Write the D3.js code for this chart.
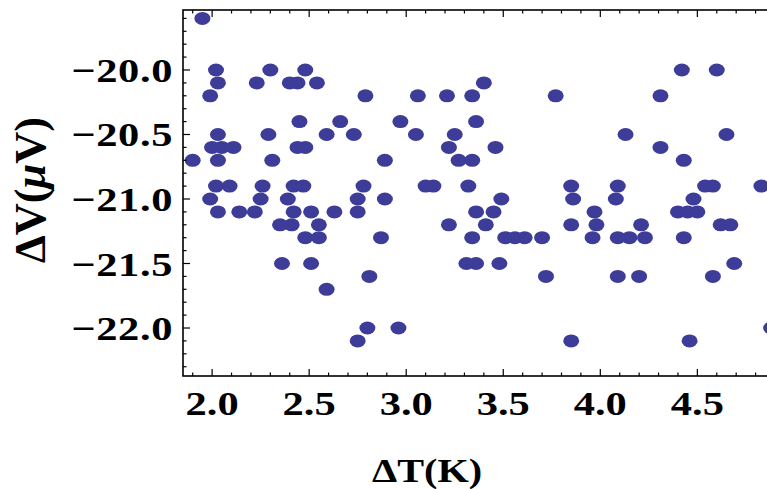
<!DOCTYPE html>
<html>
<head>
<meta charset="utf-8">
<script src="https://cdn.jsdelivr.net/npm/d3@7/dist/d3.min.js"></script>
<style>
  html, body { margin: 0; padding: 0; background: #fff; overflow: hidden; }
  svg { display: block; }
  text { font-family: "Liberation Serif", "Times New Roman", serif; font-weight: bold; fill: #000; }
</style>
</head>
<body>
<svg id="chart" width="767" height="489"></svg>
<script>
// Measured voltage step ΔV (µV) against temperature difference ΔT (K), grouped by ΔV level
const dvLevels = [-19.6, -20.0, -20.1, -20.2, -20.4, -20.5, -20.6, -20.7, -20.9, -21.0,
                  -21.1, -21.2, -21.3, -21.5, -21.6, -21.7, -22.0, -22.1];
const dtAtLevel = [
  [1.95],
  [2.02, 2.30, 2.48, 4.42, 4.60],
  [2.03, 2.23, 2.40, 2.44, 2.54, 3.40],
  [1.99, 2.79, 3.06, 3.21, 3.34, 3.77, 4.31],
  [2.45, 2.66, 2.97, 3.36],
  [2.03, 2.29, 2.59, 2.73, 3.05, 3.25, 4.13, 4.65],
  [2.00, 2.05, 2.11, 2.44, 2.48, 3.22, 3.46, 4.31],
  [1.90, 2.03, 2.31, 2.89, 3.27, 3.34, 4.43],
  [2.02, 2.09, 2.26, 2.42, 2.47, 2.78, 3.10, 3.14, 3.32, 3.85, 4.09, 4.54, 4.58, 4.83],
  [1.99, 2.25, 2.39, 2.75, 2.89, 3.49, 3.86, 4.08, 4.48],
  [2.03, 2.14, 2.22, 2.42, 2.51, 2.63, 2.75, 3.36, 3.45, 3.97, 4.40, 4.45, 4.50],
  [2.35, 2.41, 2.55, 3.22, 3.41, 3.85, 3.98, 4.21, 4.62, 4.67],
  [2.48, 2.55, 2.87, 3.34, 3.51, 3.56, 3.61, 3.70, 3.96, 4.09, 4.15, 4.23, 4.43],
  [2.36, 2.51, 3.31, 3.36, 3.48, 4.69],
  [2.81, 3.72, 4.09, 4.20, 4.58],
  [2.59],
  [2.80, 2.96, 4.88],
  [2.75, 3.85, 4.46]
];
const xTickValues = [2.0, 2.5, 3.0, 3.5, 4.0, 4.5, 5.0];
const yTickValues = [-20.0, -20.5, -21.0, -21.5, -22.0];
const xTitle = "ΔT(K)";
const yTitleParts = [["ΔV(", false], ["μ", true], ["V)", false]];

const points = [];
dvLevels.forEach((v, i) => dtAtLevel[i].forEach(t => points.push({ t, v })));

const svg = d3.select("#chart");
const plotL = 183, plotT = 10, plotB = 376, plotR = 775;
const SX = 1.25; // horizontal stretch of glyphs

const x = d3.scaleLinear().domain([1.85, 4.9]).range([plotL, plotR]);
const y = d3.scaleLinear().domain([-22.372, -19.535]).range([plotB, plotT]);

// clip for markers
svg.append("defs").append("clipPath").attr("id", "plotclip")
  .append("rect").attr("x", plotL).attr("y", plotT).attr("width", plotR - plotL).attr("height", plotB - plotT);

svg.append("g").attr("clip-path", "url(#plotclip)")
  .selectAll("ellipse").data(points).join("ellipse")
  .attr("cx", d => x(d.t))
  .attr("cy", d => y(d.v))
  .attr("rx", 8)
  .attr("ry", 6.5)
  .attr("fill", "#3d3d99");

// tick marks (all pointing into the frame)
const fmt = d3.format(".1f");
const tenths = (lo, hi) => d3.range(Math.round(lo * 10), Math.round(hi * 10) + 1).map(k => k / 10);
const isMajor = v => Math.abs(v * 2 - Math.round(v * 2)) < 1e-6;

const xAll = tenths(1.9, 4.9);
const yAll = tenths(-22.3, -19.6);

const tickG = svg.append("g").attr("stroke", "#000").attr("stroke-width", 1.2);
xAll.forEach(v => {
  const L = isMajor(v) ? 7 : 3.5;
  tickG.append("line").attr("x1", x(v)).attr("x2", x(v)).attr("y1", plotB).attr("y2", plotB - L);
  tickG.append("line").attr("x1", x(v)).attr("x2", x(v)).attr("y1", plotT).attr("y2", plotT + L);
});
yAll.forEach(v => {
  const L = isMajor(v) ? 7 : 3.5;
  tickG.append("line").attr("x1", plotL).attr("x2", plotL + L).attr("y1", y(v)).attr("y2", y(v));
});

// frame
svg.append("rect")
  .attr("x", plotL).attr("y", plotT).attr("width", plotR - plotL).attr("height", plotB - plotT)
  .attr("fill", "none").attr("stroke", "#000").attr("stroke-width", 1.6);

// tick labels
svg.append("g").selectAll("text").data(xTickValues.filter(v => x(v) < 767)).join("text")
  .attr("transform", d => `translate(${x(d)},415) scale(${SX},1)`)
  .attr("text-anchor", "middle")
  .attr("font-size", 34)
  .text(d => fmt(d));

svg.append("g").selectAll("text").data(yTickValues).join("text")
  .attr("transform", d => `translate(173,${y(d) + 12}) scale(${SX},1)`)
  .attr("text-anchor", "end")
  .attr("font-size", 34)
  .attr("letter-spacing", 0.5)
  .text(d => fmt(d).replace("-", "\u2212"));

// axis titles
svg.append("text")
  .attr("transform", `translate(427,482) scale(1.22,1)`)
  .attr("text-anchor", "middle")
  .attr("font-size", 33)
  .text(xTitle);

const yt = svg.append("text")
  .attr("transform", `translate(45,190) scale(1.22,1) rotate(-90)`)
  .attr("text-anchor", "middle")
  .attr("font-size", 36)
  .attr("textLength", 146)
  .attr("lengthAdjust", "spacingAndGlyphs");
yTitleParts.forEach(([s, it]) => {
  yt.append("tspan").attr("font-style", it ? "italic" : "normal").text(s);
});
</script>
</body>
</html>
